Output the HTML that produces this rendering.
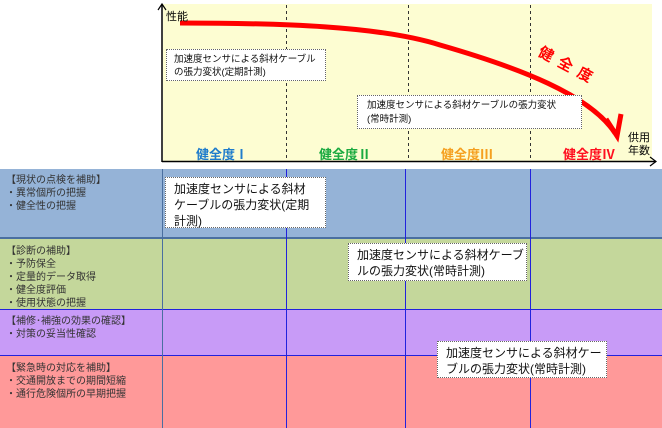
<!DOCTYPE html>
<html><head><meta charset="utf-8"><style>
body{margin:0;width:662px;height:428px;background:#fff;position:relative;overflow:hidden;font-family:"Liberation Sans","Noto Sans CJK JP",sans-serif;}
.a{position:absolute;}
.row{position:absolute;left:0;width:662px;}
.lt{position:absolute;left:6px;font-size:10px;line-height:13px;color:#333;}
.vl{position:absolute;width:1px;background:#2222dd;}
.box{position:absolute;background:#fff;border:1px dotted #666;box-sizing:border-box;color:#111;}
.lab{position:absolute;top:144px;font-size:13px;font-family:"Noto Sans CJK JP",sans-serif;font-weight:bold;}
</style></head><body>
<div class="a" style="left:163px;top:4px;width:489px;height:157px;background:#fdfdd2"></div>
<svg class="a" style="left:0;top:0" width="662" height="170">
<g stroke="#333" stroke-width="1" stroke-dasharray="3,3"><line x1="286.5" y1="5" x2="286.5" y2="160"/><line x1="408.5" y1="5" x2="408.5" y2="160"/><line x1="530.5" y1="5" x2="530.5" y2="160"/></g>
<line x1="162" y1="162" x2="162" y2="5" stroke="#000" stroke-width="1.5"/>
<polyline points="158,10 162,4 166,10" fill="none" stroke="#000" stroke-width="1.2"/>
<line x1="162" y1="161.5" x2="656" y2="161.5" stroke="#000" stroke-width="1.5"/>
<polyline points="650,157 656,161.5 650,166" fill="none" stroke="#000" stroke-width="1.2"/>
<path d="M180,23 C280,23 380,26 440,45 C520,68 590,95 615,133" fill="none" stroke="#ff0000" stroke-width="5"/>
<polyline points="606,119 617,136 621,114" fill="none" stroke="#ff0000" stroke-width="5" stroke-linejoin="miter"/>
<text x="0" y="0" font-size="15" font-weight="bold" fill="#ff0000" letter-spacing="7" transform="translate(537,55) rotate(28)" font-family="Noto Sans CJK JP,sans-serif">健全度</text>
</svg>
<div class="a" style="left:166px;top:8px;font-size:11px;color:#000">性能</div>
<div class="box" style="left:166px;top:49px;width:160px;height:32px;font-size:9.5px;line-height:13px;padding:3px 0 0 7px;">加速度センサによる斜材ケーブル<br>の張力変状(定期計測)</div>
<div class="box" style="left:357px;top:95px;width:225px;height:34px;font-size:9.5px;line-height:14px;padding:3px 0 0 9px;">加速度センサによる斜材ケーブルの張力変状<br>(常時計測)</div>
<div class="lab" style="left:196px;color:#1f7ccc">健全度Ⅰ</div>
<div class="lab" style="left:319px;color:#1aaa40">健全度Ⅱ</div>
<div class="lab" style="left:441px;color:#f5a020">健全度Ⅲ</div>
<div class="lab" style="left:563px;color:#ff1020">健全度Ⅳ</div>
<div class="a" style="left:628px;top:132px;font-size:11px;line-height:13px;color:#000">供用<br>年数</div>

<div class="row" style="top:169px;height:69px;background:#95b3d7"></div>
<div class="row" style="top:238px;height:71px;background:#c4d79b"></div>
<div class="row" style="top:309px;height:46px;background:#c89bf7"></div>
<div class="row" style="top:355px;height:73px;background:#ff9999"></div>
<div class="row" style="top:237px;height:2px;background:#4a6fa0"></div>
<div class="row" style="top:309px;height:1px;background:#2222dd"></div>
<div class="row" style="top:355px;height:1px;background:#2222dd"></div>
<div class="vl" style="left:162px;top:169px;height:259px;background:#4a6fa0"></div>
<div class="vl" style="left:286px;top:169px;height:259px"></div>
<div class="vl" style="left:405px;top:169px;height:259px"></div>
<div class="vl" style="left:530px;top:169px;height:259px"></div>
<div class="lt" style="top:174px">【現状の点検を補助】<br>・異常個所の把握<br>・健全性の把握</div>
<div class="lt" style="top:245px">【診断の補助】<br>・予防保全<br>・定量的データ取得<br>・健全度評価<br>・使用状態の把握</div>
<div class="lt" style="top:315px">【補修･補強の効果の確認】<br>・対策の妥当性確認</div>
<div class="lt" style="top:362px">【緊急時の対応を補助】<br>・交通開放までの期間短縮<br>・通行危険個所の早期把握</div>
<div class="box" style="left:165px;top:177px;width:161px;height:51px;font-size:12px;line-height:16px;padding:3px 0 0 8px;">加速度センサによる斜材<br>ケーブルの張力変状(定期<br>計測)</div>
<div class="box" style="left:348px;top:243px;width:179px;height:38px;font-size:12px;line-height:16px;padding:3px 0 0 8px;">加速度センサによる斜材ケーブ<br>ルの張力変状(常時計測)</div>
<div class="box" style="left:437px;top:341px;width:170px;height:37px;font-size:12px;line-height:16px;padding:3px 0 0 8px;">加速度センサによる斜材ケー<br>ブルの張力変状(常時計測)</div>
</body></html>
